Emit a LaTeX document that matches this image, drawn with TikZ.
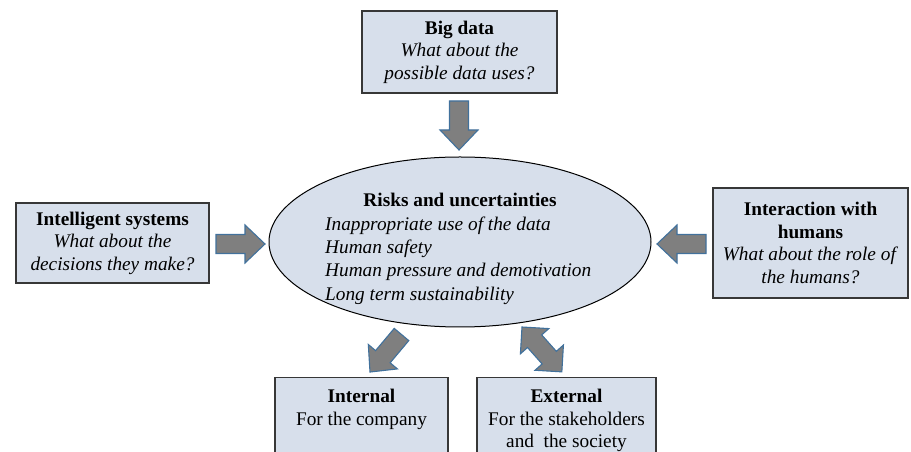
\documentclass[tikz,border=0pt]{standalone}
\usepackage{fontspec}
\setmainfont{Liberation Serif}
\usetikzlibrary{shapes.geometric}
\definecolor{boxfill}{RGB}{215,223,235}
\definecolor{boxline}{RGB}{55,55,55}
\definecolor{arrfill}{RGB}{127,127,127}
\definecolor{arrline}{RGB}{65,113,156}
\tikzset{
  txt/.style={font=\fontsize{19.3}{22.5}\selectfont, inner sep=0pt, align=center},
  box/.style={draw=boxline, fill=boxfill, line width=1.3pt, txt},
  fat/.style={fill=arrfill, draw=arrline, line width=1.1pt, line join=miter},
  pics/onearrow/.style={code={\draw[fat] (0,-9.5)--(29,-9.5)--(29,-19)--(49,0)--(29,19)--(29,9.5)--(0,9.5)--cycle;}},
  pics/twoarrow/.style={code={\draw[fat] (0,0)--(19,19)--(19,9.5)--(41,9.5)--(41,19)--(60,0)--(41,-19)--(41,-9.5)--(19,-9.5)--(19,-19)--cycle;}},
}
\begin{document}
\begin{tikzpicture}[x=1pt,y=1pt]
\useasboundingbox (0,0) rectangle (911,452);
\clip (0,0) rectangle (911,452);

% boxes
\node[box, minimum width=195pt, minimum height=82pt] (bigdata) at (459.5,400)
  {\textbf{Big data}\\\textit{What about the}\\\textit{possible data uses?}};
\node[box, minimum width=193pt, minimum height=80pt] (intel) at (112.5,209)
  {\textbf{Intelligent systems}\\\textit{What about the}\\\textit{decisions they make?}};
\node[box, minimum width=195pt, minimum height=110pt] (inter) at (810.5,209)
  {\textbf{Interaction with}\\\textbf{humans}\\\textit{What about the role of}\\\textit{the humans?}};
\node[box, anchor=north, minimum width=173pt, minimum height=100pt] (internal) at (361.5,75) {};
\node[txt, anchor=north] (internaltxt) at ([yshift=-12pt]internal.north)
  {\textbf{Internal}\\For the company};
\node[box, anchor=north, minimum width=179pt, minimum height=100pt] (external) at (566.5,75) {};
\node[txt, anchor=north] (externaltxt) at ([yshift=-12pt]external.north)
  {\textbf{External}\\For the stakeholders\\and\ \ the society};

% ellipse
\node[ellipse, draw=black, fill=boxfill, line width=1pt, inner sep=0pt,
      minimum width=382pt, minimum height=170pt] (risk) at (460,210) {};
\node[txt] (risktitle) at (460,252) {\textbf{Risks and uncertainties}};
\node[txt, align=left, anchor=north west, font=\fontsize{19.3}{23.3}\selectfont\itshape] (risklist) at (325,235.5)
  {Inappropriate use of the data\\Human safety\\Human pressure and demotivation\\Long term sustainability};

% block arrows
\pic[rotate=-90] (arrtop) at (459,351) {onearrow};
\pic (arrleft) at (216,208) {onearrow};
\pic[rotate=180] (arrright) at (706,208) {onearrow};
\pic[rotate=230] (arrint) at (401.5,117.5) {onearrow};
\pic[rotate=-48.4] (arrext) at (522,125) {twoarrow};
\end{tikzpicture}
\end{document}
